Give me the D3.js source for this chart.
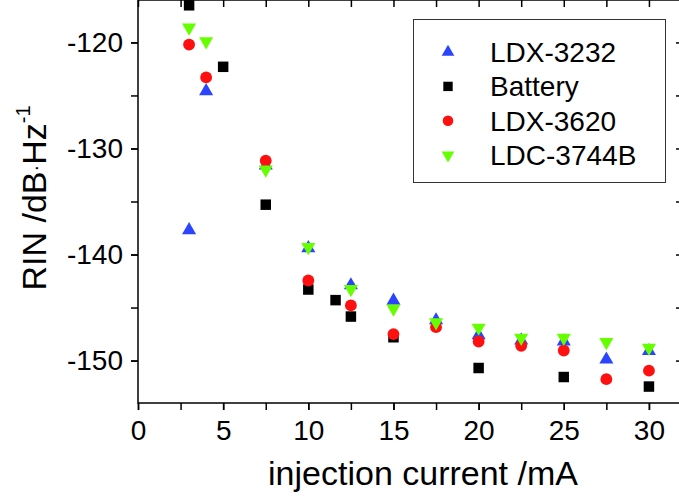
<!DOCTYPE html>
<html>
<head>
<meta charset="utf-8">
<script src="https://cdn.jsdelivr.net/npm/d3@7"></script>
<style>
  body { margin: 0; background: #fff; }
  text { font-family: "Liberation Sans", Arial, sans-serif; fill: #000; }
</style>
</head>
<body>
<script>
// series data
var seriesNames = ["LDX-3232", "Battery", "LDX-3620", "LDC-3744B"];

var ldx3232Current = [3, 4, 7.5, 10, 12.5, 15, 17.5, 20, 22.5, 25, 27.5, 30];
var ldx3232Rin = [-137.7, -124.6, -131.6, -139.4, -142.9, -144.35, -146.2, -147.6, -148.1, -148.2, -149.9, -149.1];

var batteryCurrent = [3, 5, 7.5, 10, 11.6, 12.5, 15, 20, 25, 30];
var batteryRin = [-116.5, -122.3, -135.3, -143.3, -144.3, -145.85, -147.8, -150.7, -151.55, -152.45];

var ldx3620Current = [3, 4, 7.5, 10, 12.5, 15, 17.5, 20, 22.5, 25, 27.5, 30];
var ldx3620Rin = [-120.2, -123.3, -131.15, -142.45, -144.8, -147.5, -146.85, -148.2, -148.6, -149.05, -151.75, -150.95];

var ldc3744bCurrent = [3, 4, 7.5, 10, 12.5, 15, 17.5, 20, 22.5, 25, 27.5, 30];
var ldc3744bRin = [-118.6, -119.9, -132.0, -139.3, -143.25, -145.1, -146.4, -146.9, -147.85, -147.85, -148.25, -148.8];

var xTicks = [0, 5, 10, 15, 20, 25, 30];
var yTicks = [-150, -140, -130, -120];

var W = 679, H = 496;
var margin = {top: 0, right: -4, bottom: 93, left: 138};
var width = W - margin.left - margin.right,
    height = H - margin.top - margin.bottom;

var svg = d3.select("body").append("svg")
  .attr("width", W)
  .attr("height", H);

var g = svg.append("g")
  .attr("transform", "translate(" + margin.left + "," + margin.top + ")");

var x = d3.scaleLinear().domain([0, 32]).range([0, width]);
var y = d3.scaleLinear().domain([-154, -116]).range([height, 0]);

var series = [
  {name: seriesNames[0], xs: ldx3232Current, ys: ldx3232Rin, color: "#2b45ff", sym: d3.symbolTriangle, size: 86, rot: 0},
  {name: seriesNames[1], xs: batteryCurrent, ys: batteryRin, color: "#000000", sym: d3.symbolSquare, size: 110, rot: 0},
  {name: seriesNames[2], xs: ldx3620Current, ys: ldx3620Rin, color: "#ff1010", sym: d3.symbolCircle, size: 110, rot: 0},
  {name: seriesNames[3], xs: ldc3744bCurrent, ys: ldc3744bRin, color: "#66ff00", sym: d3.symbolTriangle, size: 86, rot: 180}
];

// points
series.forEach(function(s) {
  var pts = s.xs.map(function(v, i) { return {x: v, y: s.ys[i]}; });
  g.append("g").selectAll("path")
    .data(pts)
    .enter().append("path")
    .attr("d", d3.symbol().type(s.sym).size(s.size))
    .attr("fill", s.color)
    .attr("transform", function(d) {
      return "translate(" + x(d.x) + "," + y(d.y) + ") rotate(" + s.rot + ")";
    });
});

// axes: bottom/left outward, top/right mirrored inward
var xMinor = d3.range(0, 32.01, 2.5);
var yMinor = d3.range(-150, -116, 5);
var plainNum = function(d) { return String(d); }; // keep ascii hyphen

var bottom = g.append("g")
  .attr("class", "x axis")
  .attr("transform", "translate(0," + height + ")")
  .call(d3.axisBottom(x).tickValues(xMinor).tickSize(7).tickFormat(""));
bottom.append("g").call(d3.axisBottom(x).tickValues(xTicks).tickSize(7).tickPadding(10).tickFormat(plainNum));

var left = g.append("g")
  .attr("class", "y axis")
  .call(d3.axisLeft(y).tickValues(yMinor).tickSize(7).tickFormat(""));
left.append("g").call(d3.axisLeft(y).tickValues(yTicks).tickSize(7).tickPadding(8).tickFormat(plainNum));

g.append("g").attr("class", "axis")
  .call(d3.axisBottom(x).tickValues(xMinor).tickSize(7).tickFormat(""));
g.append("g").attr("class", "axis")
  .attr("transform", "translate(" + width + ",0)")
  .call(d3.axisRight(y).tickValues(yMinor).tickSize(-7).tickFormat(""));

svg.selectAll(".axis path, .axis line")
  .attr("stroke", "#000")
  .attr("stroke-width", 1.5);
svg.selectAll(".axis path").attr("d", null);
svg.selectAll(".axis text")
  .style("font-size", "28px")
  .style("font-family", "'Liberation Sans', Arial, sans-serif");

// frame
g.append("rect")
  .attr("x", 0).attr("y", 0)
  .attr("width", width).attr("height", height)
  .attr("fill", "none")
  .attr("stroke", "#000")
  .attr("stroke-width", 1.5);

// axis titles
svg.append("text")
  .attr("x", 423)
  .attr("y", 485)
  .attr("text-anchor", "middle")
  .style("font-size", "34px")
  .text("injection current /mA");

var yt = svg.append("text")
  .attr("transform", "translate(46,198) rotate(-90)")
  .attr("text-anchor", "middle")
  .style("font-size", "34px");
yt.append("tspan").text("RIN /dB");
yt.append("tspan").style("font-size", "20px").attr("dy", -4).text("·");
yt.append("tspan").attr("dy", 4).text("Hz");
yt.append("tspan").style("font-size", "20px").attr("dy", -16).text("-1");

// legend
var legend = svg.append("g");
legend.append("rect")
  .attr("x", 413.5).attr("y", 19.5)
  .attr("width", 252).attr("height", 163)
  .attr("fill", "#fff")
  .attr("stroke", "#333")
  .attr("stroke-width", 1);

series.forEach(function(s, i) {
  var ly = 52 + i * 34.4;
  legend.append("path")
    .attr("d", d3.symbol().type(s.sym).size(s.size * 0.8))
    .attr("fill", s.color)
    .attr("transform", "translate(448," + ly + ") rotate(" + s.rot + ")");
  legend.append("text")
    .attr("x", 490)
    .attr("y", ly + 10)
    .style("font-size", "28px")
    .text(s.name);
});
</script>
</body>
</html>
